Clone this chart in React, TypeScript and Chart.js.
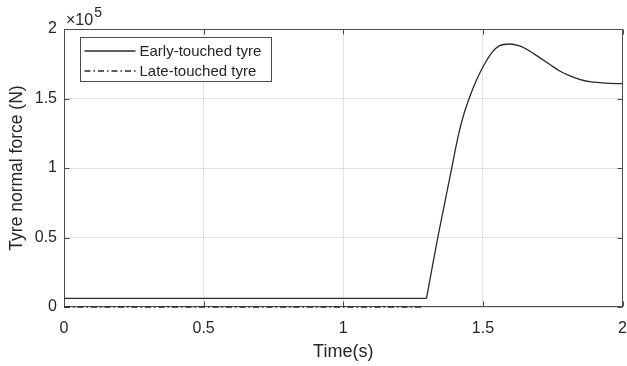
import { useEffect, useRef } from 'react';
import { Chart, registerables } from 'chart.js';

Chart.register(...registerables);

// ---- data (force in units of 1e5 N) ----
// early-touched tyre: constant preload, then the loading transient
const earlyFlatTime = [0, 1.298];
const earlyFlatForce = [0.062, 0.062];
const earlyRiseTime = [1.298, 1.321, 1.339, 1.363, 1.387, 1.411, 1.429, 1.453, 1.477, 1.504, 1.53, 1.56, 1.596, 1.631, 1.667, 1.703, 1.739, 1.775, 1.81, 1.846, 1.882, 1.918, 1.953, 2.0];
const earlyRiseForce = [0.062, 0.314, 0.506, 0.746, 0.986, 1.225, 1.369, 1.513, 1.633, 1.741, 1.825, 1.88, 1.892, 1.878, 1.842, 1.794, 1.746, 1.698, 1.664, 1.638, 1.621, 1.614, 1.609, 1.607];
const lateTime = [0, 1.288];
const lateForce = [0, 0];
const seriesLabels = ['Early-touched tyre', 'Late-touched tyre'];
const xTicks = [0, 0.5, 1, 1.5, 2];
const yTicks = [0, 0.5, 1, 1.5, 2];
const yExponent = '5';

const FONT = "'Liberation Sans', Arial, Helvetica, sans-serif";
const textColor = '#262626';
const axisColor = '#4d4d4d';
const lineColor = '#2a2a2a';
const gridColor = '#e2e2e2';
const lateDash = [6, 3, 1.5, 3];

const boxPlugin = {
  id: 'matlabBox',
  beforeDatasetsDraw(chart: any) {
    const { ctx, chartArea: a, scales } = chart;
    ctx.save();
    ctx.strokeStyle = axisColor;
    ctx.lineWidth = 1;
    const L = Math.round(a.left) + 0.5;
    const R = Math.round(a.right) - 0.5;
    const T = Math.round(a.top) + 0.5;
    const B = Math.round(a.bottom) - 0.5;
    ctx.strokeRect(L, T, R - L, B - T);
    const tl = 5;
    ctx.beginPath();
    xTicks.forEach((v) => {
      const x = Math.round(scales.x.getPixelForValue(v)) + 0.5;
      ctx.moveTo(x, B); ctx.lineTo(x, B - tl);
      ctx.moveTo(x, T); ctx.lineTo(x, T + tl);
    });
    yTicks.forEach((v) => {
      const y = Math.round(scales.y.getPixelForValue(v)) + 0.5;
      ctx.moveTo(L, y); ctx.lineTo(L + tl, y);
      ctx.moveTo(R, y); ctx.lineTo(R - tl, y);
    });
    ctx.stroke();

    // exponent label
    ctx.fillStyle = textColor;
    ctx.textBaseline = 'alphabetic';
    ctx.textAlign = 'left';
    ctx.font = `16px ${FONT}`;
    const base = '\u00d710';
    const bx = a.left + 2;
    ctx.fillText(base, bx, a.top - 4);
    const w = ctx.measureText(base).width;
    ctx.font = `14px ${FONT}`;
    ctx.fillText(yExponent, bx + w + 1, a.top - 12);
    ctx.restore();
  },
  afterDatasetsDraw(chart: any) {
    const { ctx, chartArea: a } = chart;
    ctx.save();
    const lx = Math.round(a.left) + 16.5;
    const ly = Math.round(a.top) + 8.5;
    const lw = 191;
    const lh = 44;
    ctx.fillStyle = '#ffffff';
    ctx.fillRect(lx, ly, lw, lh);
    ctx.strokeStyle = axisColor;
    ctx.lineWidth = 1;
    ctx.strokeRect(lx, ly, lw, lh);
    ctx.font = `15px ${FONT}`;
    ctx.textBaseline = 'middle';
    ctx.textAlign = 'left';
    const entries = [
      { label: seriesLabels[0], dash: [] as number[] },
      { label: seriesLabels[1], dash: lateDash },
    ];
    entries.forEach((e, i) => {
      const y = ly + 13.5 + i * 20;
      ctx.strokeStyle = lineColor;
      ctx.lineWidth = 1.3;
      ctx.setLineDash(e.dash);
      ctx.beginPath();
      ctx.moveTo(lx + 4, y);
      ctx.lineTo(lx + 55, y);
      ctx.stroke();
      ctx.setLineDash([]);
      ctx.fillStyle = textColor;
      ctx.fillText(e.label, lx + 59, y + 1);
    });
    ctx.restore();
  },
};

export default function App() {
  const ref = useRef<HTMLCanvasElement | null>(null);
  useEffect(() => {
    if (!ref.current) return;
    const chart = new Chart(ref.current, {
      type: 'line',
      data: {
        datasets: [
          {
            label: seriesLabels[0],
            data: earlyFlatTime.map((t, i) => ({ x: t, y: earlyFlatForce[i] })),
            borderColor: lineColor,
            borderWidth: 1.3,
            pointRadius: 0,
            tension: 0,
            fill: false,
          },
          {
            label: seriesLabels[0],
            data: earlyRiseTime.map((t, i) => ({ x: t, y: earlyRiseForce[i] })),
            borderColor: lineColor,
            borderWidth: 1.3,
            pointRadius: 0,
            cubicInterpolationMode: 'monotone',
            fill: false,
          },
          {
            label: seriesLabels[1],
            data: lateTime.map((t, i) => ({ x: t, y: lateForce[i] })),
            borderColor: lineColor,
            borderWidth: 1.3,
            borderDash: lateDash,
            pointRadius: 0,
            tension: 0,
            fill: false,
            clip: false as any,
          },
        ],
      },
      options: {
        animation: false,
        responsive: false,
        devicePixelRatio: 1,
        events: [],
        layout: { padding: { top: 29, right: 0, left: 0, bottom: 0 } },
        plugins: {
          legend: { display: false },
          tooltip: { enabled: false },
        },
        scales: {
          x: {
            type: 'linear',
            min: 0,
            max: 2,
            afterBuildTicks: (s: any) => { s.ticks = xTicks.map((v) => ({ value: v })); },
            afterFit: (s: any) => { s.height = 59; },
            ticks: { color: textColor, font: { family: FONT, size: 16 }, padding: 0, maxRotation: 0, autoSkip: false, callback: (v: any) => String(v) },
            grid: { color: gridColor, drawTicks: true, tickLength: 12, tickColor: 'rgba(0,0,0,0)' },
            border: { display: false },
            title: { display: true, text: 'Time(s)', color: textColor, font: { family: FONT, size: 18 }, padding: { top: 0, bottom: 3 } },
          },
          y: {
            type: 'linear',
            min: 0,
            max: 2,
            afterBuildTicks: (s: any) => { s.ticks = yTicks.map((v) => ({ value: v })); },
            afterFit: (s: any) => { s.width = 64; },
            ticks: { color: textColor, font: { family: FONT, size: 16 }, padding: 7, autoSkip: false, callback: (v: any) => String(v) },
            grid: { color: gridColor, drawTicks: false },
            border: { display: false },
            title: { display: true, text: 'Tyre normal force (N)', color: textColor, font: { family: FONT, size: 17.5 }, padding: { top: 7, bottom: 0 } },
          },
        },
      },
      plugins: [boxPlugin],
    });
    return () => chart.destroy();
  }, []);
  return (
    <div style={{ position: 'absolute', left: 0, top: 0, width: 627, height: 366, background: '#fff' }}>
      <canvas ref={ref} width={627} height={366} style={{ display: 'block', width: 627, height: 366 }} />
    </div>
  );
}
